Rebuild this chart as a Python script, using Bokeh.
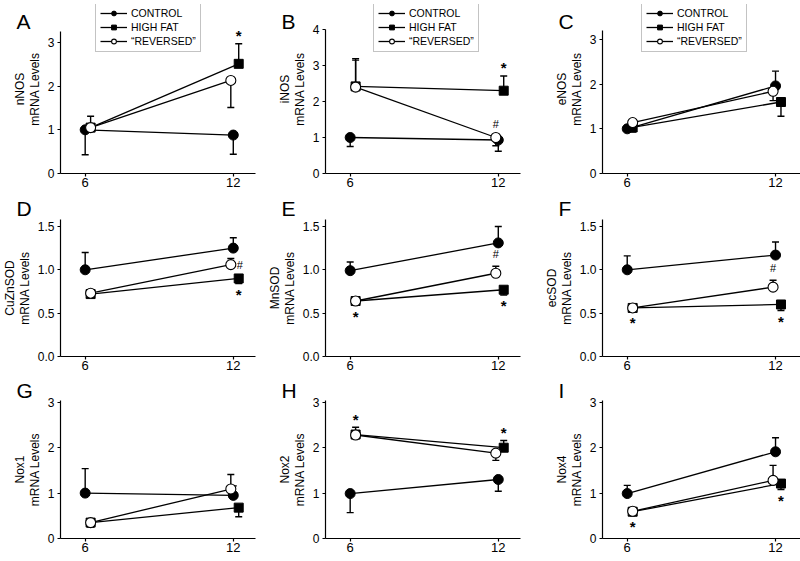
from bokeh.plotting import figure
from bokeh.layouts import gridplot
from bokeh.models import Legend, LegendItem, FixedTicker, PrintfTickFormatter, Range1d
from bokeh.embed import file_html
from bokeh.resources import INLINE
from bokeh.core.properties import value

# ---------------- data ----------------
panel_letters = ["A", "B", "C", "D", "E", "F", "G", "H", "I"]
genes = ["nNOS", "iNOS", "eNOS", "CuZnSOD", "MnSOD", "ecSOD", "Nox1", "Nox2", "Nox4"]
weeks = [6, 12]
series_labels = ["CONTROL", "HIGH FAT", "\u201cREVERSED\u201d"]

# mean values at week 6 and week 12, per panel
control_mean = [[1.00, 0.88], [1.00, 0.93], [1.00, 1.96],
                [1.00, 1.25], [0.99, 1.31], [1.00, 1.17],
                [1.00, 0.95], [0.99, 1.30], [0.99, 1.91]]
control_err = [[-0.57, -0.44], [-0.25, -0.31], [0.00, 0.33],
               [0.20, 0.12], [0.10, 0.19], [0.16, 0.15],
               [0.54, 0.21], [-0.42, -0.26], [0.18, 0.31]]
highfat_mean = [[1.05, 2.51], [2.42, 2.30], [1.03, 1.60],
                [0.72, 0.90], [0.64, 0.77], [0.56, 0.60],
                [0.35, 0.68], [2.29, 2.00], [0.59, 1.21]]
highfat_err = [[0.00, 0.46], [0.77, 0.41], [-0.10, -0.32],
               [-0.03, -0.06], [0.00, -0.06], [0.00, -0.07],
               [-0.10, -0.20], [0.16, 0.16], [0.00, -0.13]]
reversed_mean = [[1.05, 2.13], [2.40, 1.00], [1.14, 1.84],
                 [0.73, 1.06], [0.64, 0.96], [0.56, 0.80],
                 [0.35, 1.09], [2.28, 1.88], [0.60, 1.28]]
reversed_err = [[0.26, -0.62], [0.75, -0.23], [0.00, -0.21],
                [0.00, 0.07], [0.00, 0.08], [0.00, 0.08],
                [0.00, 0.32], [0.00, -0.16], [0.00, 0.33]]

axis_top = [3.25, 4.0, 3.2, 1.58, 1.58, 1.58, 3.04, 3.04, 3.04]
y_ticks = [[0, 1, 2, 3], [0, 1, 2, 3, 4], [0, 1, 2, 3],
           [0, 0.5, 1.0, 1.5], [0, 0.5, 1.0, 1.5], [0, 0.5, 1.0, 1.5],
           [0, 1, 2, 3], [0, 1, 2, 3], [0, 1, 2, 3]]

# significance marks: (panel, week index, series, symbol, side)
sig_marks = [
    (0, 1, 1, "*", "above"),
    (1, 1, 1, "*", "above"), (1, 1, 2, "#", "above"),
    (3, 1, 2, "#", "right"), (3, 1, 1, "*", "below"),
    (4, 0, 1, "*", "below"), (4, 1, 2, "#", "above"), (4, 1, 1, "*", "below"),
    (5, 0, 1, "*", "below"), (5, 1, 2, "#", "above"), (5, 1, 1, "*", "below"),
    (7, 0, 1, "*", "above"), (7, 1, 1, "*", "above"),
    (8, 0, 1, "*", "below"), (8, 1, 1, "*", "below"),
]

# ---------------- style / layout ----------------
FONT = "Liberation Sans"
x_dodge = [[0.0, 0.0], [0.22, 0.22], [0.22, -0.10]]   # horizontal dodge per series
col_left = [55, 55, 55]
col_frame_w = [200, 200, 203]
col_w = [265, 277, 258]
x_end = [12.9, 12.9, 13.01]
# row geometry: figure height, top border, frame height, pixel height of the axis span
row_h = [194, 183, 184]
row_top = [4, 22, 18]
row_frame_h = [169, 140, 143]
axis_px = [[142, 144, 143], [140, 140, 140], [143, 143, 143]]
title_standoff = [-60, 0, -2]
title_valign = ["top", "bottom", "bottom"]
title_pad_top = [37, 0, 0]
legend_pos = [(35, 121), (48, 121), (39, 121)]

all_means = [control_mean, highfat_mean, reversed_mean]
all_errs = [control_err, highfat_err, reversed_err]


def make_panel(k):
    r, c = divmod(k, 3)
    fh = row_frame_h[r]
    y_end = axis_top[k] * fh / axis_px[r][c]
    p = figure(width=col_w[c], height=row_h[r], output_backend="svg",
               toolbar_location=None, x_range=Range1d(5.0, x_end[c]),
               y_range=Range1d(0, y_end),
               min_border_left=col_left[c],
               min_border_right=col_w[c] - col_left[c] - col_frame_w[c],
               min_border_top=row_top[r], min_border_bottom=row_h[r] - row_top[r] - fh)
    p.outline_line_color = None
    p.grid.visible = False
    p.background_fill_color = "white"
    p.border_fill_color = "white"
    for ax in (p.xaxis[0], p.yaxis[0]):
        ax.axis_line_color = "black"
        ax.axis_line_width = 1.2
        ax.major_tick_line_color = "black"
        ax.major_tick_line_width = 1.2
        ax.major_tick_in = 0
        ax.major_tick_out = 3
        ax.minor_tick_line_color = None
        ax.major_label_text_color = "black"
        ax.major_label_text_font = FONT
    p.xaxis.ticker = FixedTicker(ticks=weeks)
    p.xaxis.major_label_text_font_size = "13px"
    p.xaxis.major_label_standoff = 1
    p.yaxis.ticker = FixedTicker(ticks=y_ticks[k])
    p.yaxis.bounds = (0, axis_top[k])
    p.yaxis.major_label_text_font_size = "12px"
    p.yaxis.major_label_standoff = 3
    if r == 1:
        p.yaxis.formatter = PrintfTickFormatter(format="%.1f")
    p.yaxis.axis_label = genes[k] + "\nmRNA Levels"
    p.yaxis.axis_label_text_font = FONT
    p.yaxis.axis_label_text_font_size = "12px"
    p.yaxis.axis_label_text_font_style = "normal"
    p.yaxis.axis_label_text_color = "black"
    p.yaxis.axis_label_standoff = 3
    p.yaxis.axis_label_text_line_height = 1.05

    # panel letter as title
    p.title.text = panel_letters[k]
    p.title.text_font = FONT
    p.title.text_font_size = "21px"
    p.title.text_font_style = "normal"
    p.title.text_color = "black"
    p.title.align = "left"
    p.title.offset = -44
    p.title.standoff = title_standoff[r]
    p.title.vertical_align = title_valign[r]
    p.title.padding = dict(left=0, right=0, top=title_pad_top[r], bottom=0)

    xs = [[w + x_dodge[s][i] for i, w in enumerate(weeks)] for s in range(3)]
    lines = []
    for s in range(3):
        lines.append(p.line(xs[s], all_means[s][k], line_color="black", line_width=1.3))
    # error bars
    for s in range(3):
        for i in range(2):
            e = all_errs[s][k][i]
            if e != 0:
                m = all_means[s][k][i]
                p.segment(x0=[xs[s][i]], y0=[m], x1=[xs[s][i]], y1=[m + e],
                          line_color="black", line_width=1.4)
                p.scatter([xs[s][i]], [m + e], marker="dash", size=7,
                          line_color="black", line_width=1.4)
    marks = []
    marks.append(p.scatter(xs[0], control_mean[k], marker="circle", size=10,
                           fill_color="black", line_color="black"))
    marks.append(p.scatter(xs[1], highfat_mean[k], marker="square", size=9,
                           fill_color="black", line_color="black"))
    marks.append(p.scatter(xs[2], reversed_mean[k], marker="circle", size=10,
                           fill_color="white", line_color="black", line_width=1.1))

    # significance symbols
    for (pk, wi, s, sym, side) in sig_marks:
        if pk != k:
            continue
        m = all_means[s][k][wi]
        e = all_errs[s][k][wi]
        x = xs[s][wi]
        size = "15px" if sym == "*" else "11px"
        style = "bold" if sym == "*" else "normal"
        if side == "above":
            anchor = m + max(e, 0)
            d = 12 if e > 0 else 14
            xo, yo = 0, -d
        elif side == "below":
            anchor = m + min(e, 0)
            d = 7 if e < 0 else 11
            xo, yo = 0, d
        else:
            anchor = m
            xo, yo = 6, 0
        if sym == "*":
            yo += 4
        p.text([x], [anchor], text=[sym], x_offset=xo, y_offset=yo,
               text_align="center" if side != "right" else "left",
               text_baseline="middle", text_font=value(FONT),
               text_font_size=size, text_font_style=style, text_color="black")

    # legend
    if r == 0:
        items = [LegendItem(label=series_labels[s], renderers=[lines[s], marks[s]]) for s in range(3)]
        lg = Legend(items=items, location=legend_pos[c], glyph_width=27, glyph_height=12,
                    label_height=12, label_standoff=4, padding=4, spacing=2, margin=0,
                    border_line_color="#888888", border_line_width=1,
                    background_fill_color="white", background_fill_alpha=1.0,
                    label_text_font=FONT, label_text_font_size="10.5px",
                    label_text_color="black")
        p.add_layout(lg, "center")
    return p


figs = [make_panel(k) for k in range(9)]
grid = gridplot([figs[0:3], figs[3:6], figs[6:9]], toolbar_location=None)

open("out.html", "w").write(file_html(grid, INLINE))
